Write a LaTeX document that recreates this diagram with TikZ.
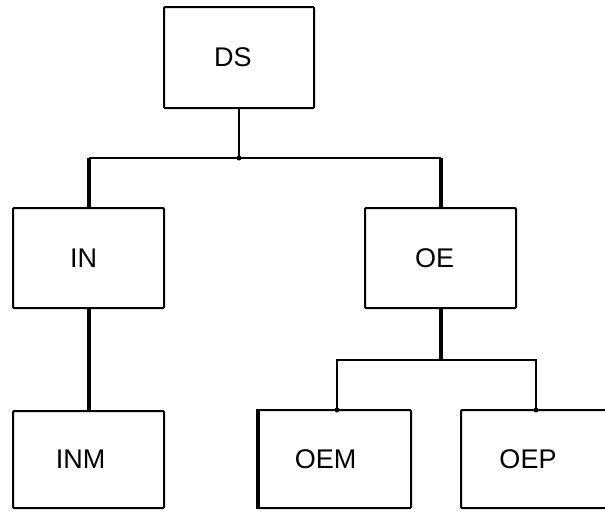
\documentclass[tikz,border=0pt]{standalone}
\usepackage{fontspec}
\setmainfont{Liberation Sans}
\begin{document}
\begin{tikzpicture}[x=1pt,y=1pt,
  box/.style={draw, line width=2pt, minimum width=151pt, minimum height=100pt, inner sep=0pt, rounded corners=1pt},
  lbl/.style={font=\fontsize{27}{32}\selectfont, inner sep=0pt},
  thinline/.style={line width=2pt},
  thickline/.style={line width=4pt}]
\useasboundingbox (0,0) rectangle (605,-512);
\fill[white] (0,0) rectangle (605,-512);
% boxes
\node[box, minimum width=150pt, minimum height=101pt] (ds) at (239,-57.5) {};
\node[box] (in) at (88.5,-258) {};
\node[box] (oe) at (440.5,-258) {};
\node[box, minimum height=97pt] (inm) at (88.5,-459.5) {};
\node[box, minimum width=153pt, minimum height=98pt] (oem) at (334.5,-459) {};
\node[box, minimum width=152pt, minimum height=98pt] (oep) at (537,-459) {};
% labels
\node[lbl] (tds) at ([xshift=-6]ds.center) {DS};
\node[lbl] (tin) at ([xshift=-5]in.center) {IN};
\node[lbl] (toe) at ([xshift=-6]oe.center) {OE};
\node[lbl] (tinm) at ([xshift=-8]inm.center) {INM};
\node[lbl] (toem) at ([xshift=-9]oem.center) {OEM};
\node[lbl] (toep) at ([xshift=-9]oep.center) {OEP};
% thick left edge of OEM
\draw[line width=4pt] ([xshift=1pt]oem.north west) -- ([xshift=1pt]oem.south west);
% bus coordinates
\coordinate (bus1) at (0,-158);
\coordinate (bus2) at (0,-360);
\coordinate (oemtop) at (337,-410);
\coordinate (oeptop) at (536,-410);
% connectors
\draw[thinline] (ds.south) -- (ds.south |- bus1);
\fill (ds.south |- bus1) circle (2.5pt);
\draw[thinline] (in.north |- bus1) -- (oe.north |- bus1);
\draw[thickline] (in.north) -- (in.north |- bus1);
\draw[thickline] (oe.north) -- (oe.north |- bus1);
\draw[thickline] (in.south) -- (inm.north);
\draw[thickline] (oe.south) -- (oe.south |- bus2);
\draw[thinline] (oemtop) -- (oemtop |- bus2) -- (oeptop |- bus2) -- (oeptop);
\fill (oemtop) circle (2.5pt);
\fill (oeptop) circle (2.5pt);
\end{tikzpicture}
\end{document}
